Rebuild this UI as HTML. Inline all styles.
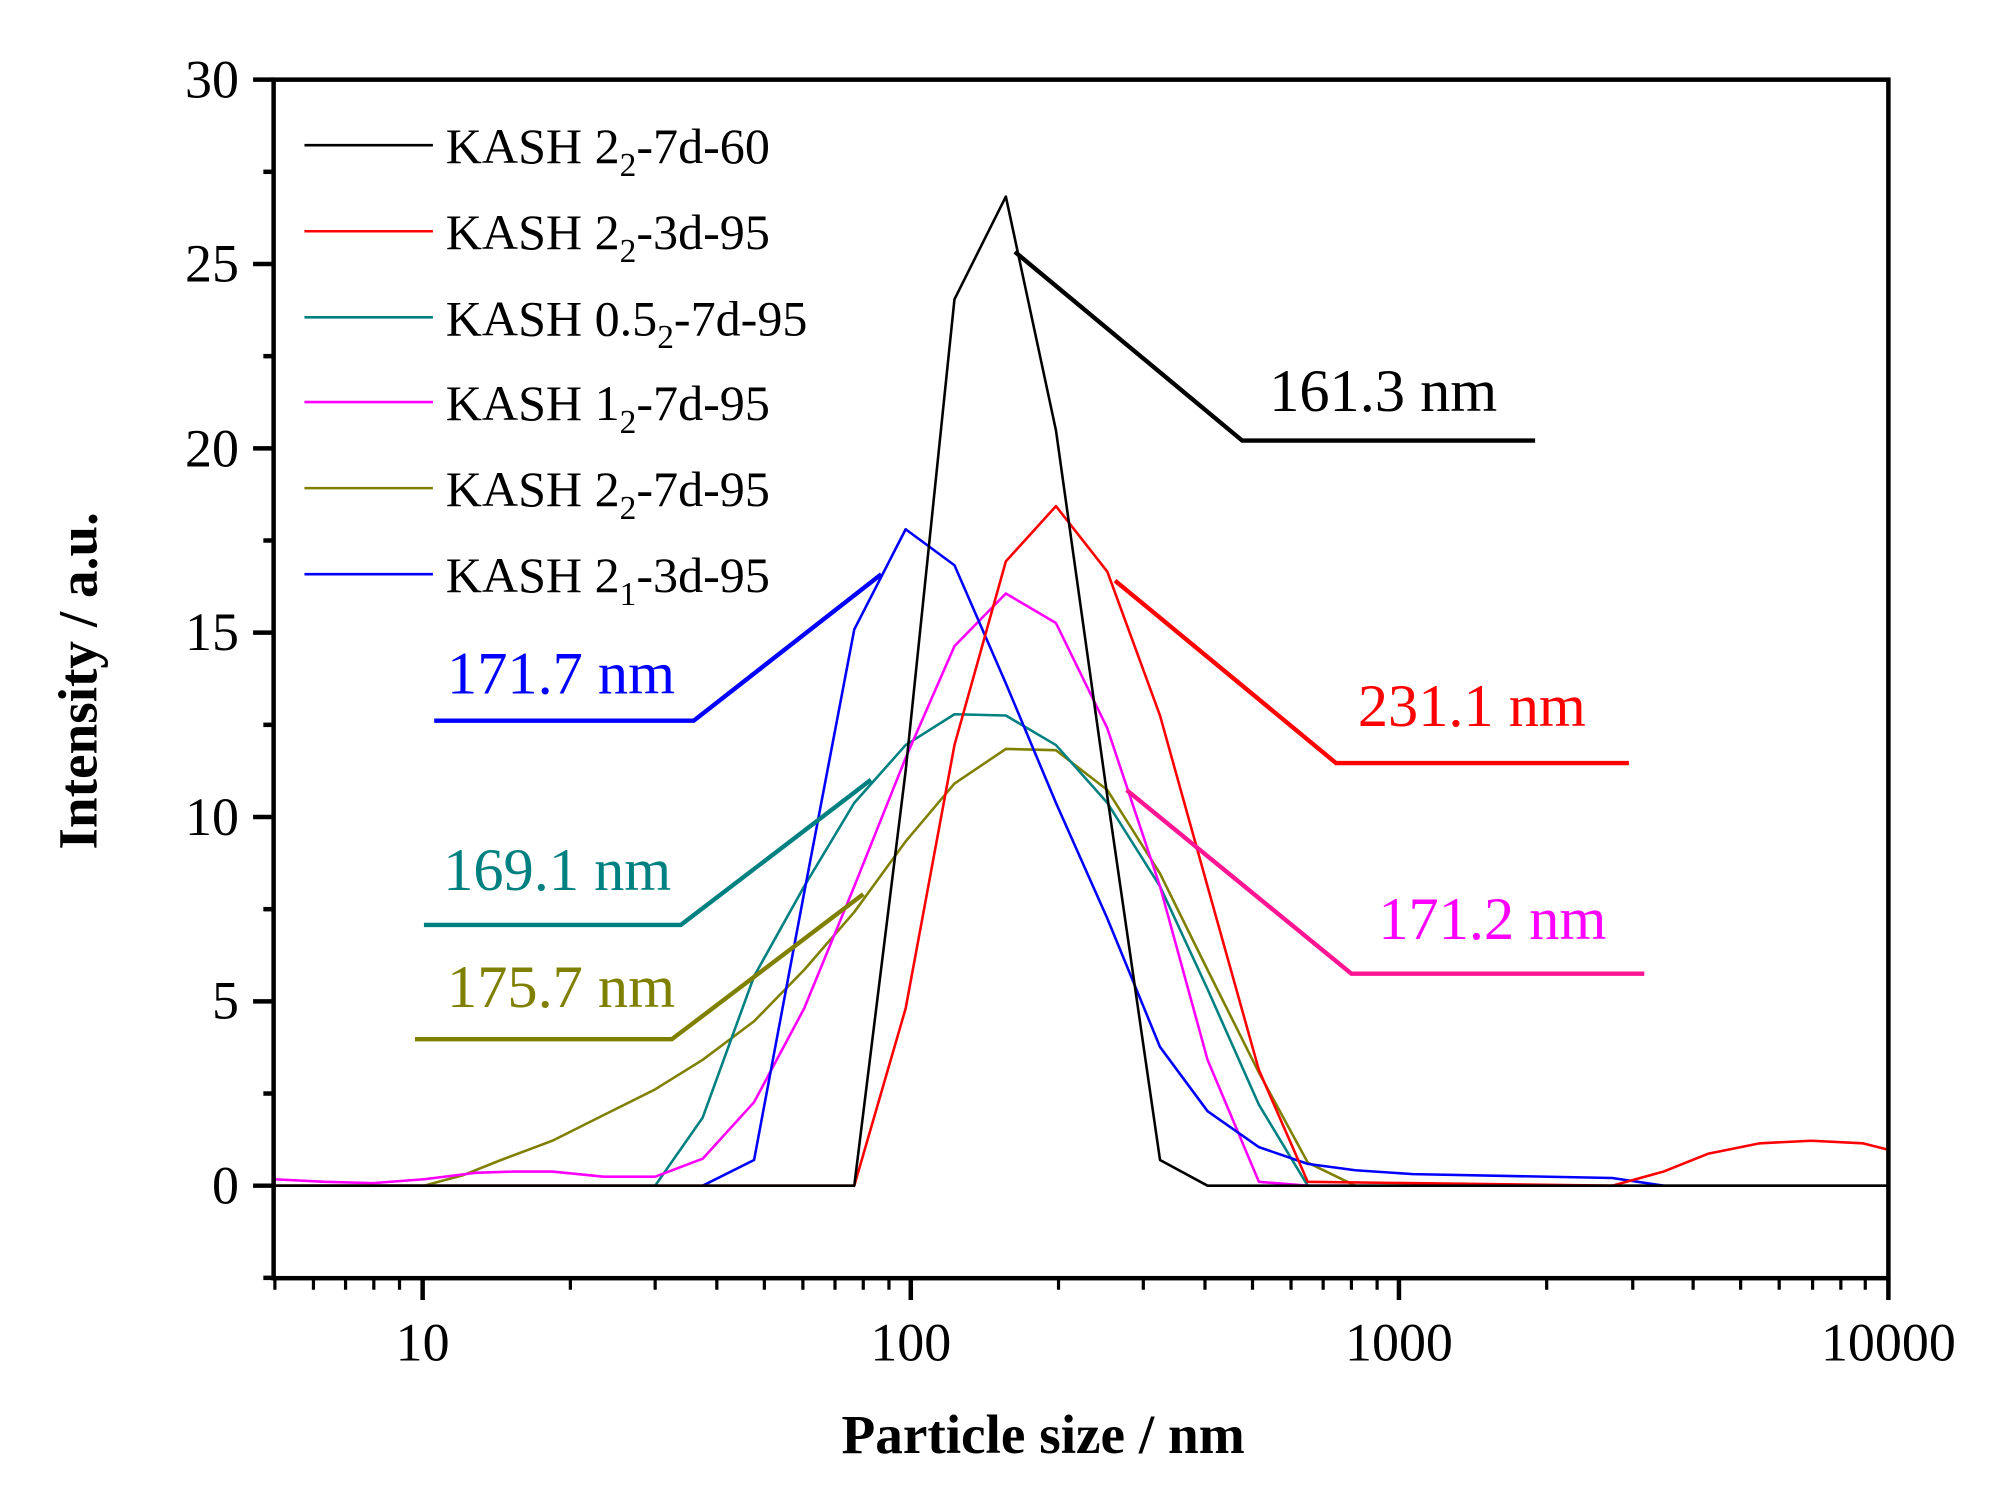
<!DOCTYPE html>
<html><head><meta charset="utf-8"><style>html,body{margin:0;padding:0;background:#fff}svg{display:block}</style></head>
<body>
<svg width="2004" height="1485" viewBox="0 0 1560 1156" preserveAspectRatio="none" xmlns="http://www.w3.org/2000/svg" font-family="Liberation Serif, serif">
<rect width="1560" height="1156" fill="#fff"/>
<g fill="none" stroke-width="2" stroke-linejoin="round">
<polyline stroke="#808000" points="213,923 330,923 360,915 390,903 430,888 470,868 510,848 547,825 587,795 626,755 665,710 705,655 743,610 783,583 822,584 862,615 903,680 940,755 980,835 1018,905 1055,923 1470,923"/>
<polyline stroke="#008080" points="213,923 510,923 547,870 587,760 626,690 665,625 705,580 743,556 783,557 822,580 862,625 903,690 940,770 980,860 1018,923"/>
<polyline stroke="#ff00ff" points="213,918 253,920 290,921 330,918 370,913 400,912 430,912 470,916 510,916 547,902 587,858 626,785 665,690 705,590 743,503 783,462 822,485 862,567 903,690 940,825 980,920 1018,923 1055,923"/>
<polyline stroke="#0000ff" points="547,923 587,903 626,695 665,490 705,412 743,440 783,532 822,625 862,715 903,815 940,865 980,893 1018,906 1055,911 1100,914 1255,917 1295,923"/>
<polyline stroke="#ff0000" points="213,923 665,923 705,785 743,580 783,437 822,394 862,445 903,557 940,690 980,833 1018,920 1255,923 1295,912 1330,898 1370,890 1410,888 1450,890 1470,895"/>
<polyline stroke="#000" points="213,923 665,923 705,600 743,233 783,153 822,335 862,620 903,903 940,923 1470,923"/>
</g>
<g fill="none" stroke-width="3.4">
<polyline stroke="#000" points="790,196 967,343 1195,343"/>
<polyline stroke="#ff0000" points="868,452 1040,594 1268,594"/>
<polyline stroke="#ff1493" points="877,615 1052,758 1280,758"/>
<polyline stroke="#0000ff" points="338,561 540,561 686,447"/>
<polyline stroke="#008080" points="330,720 530,720 678,607"/>
<polyline stroke="#808000" points="323,809 523,809 672,696"/>
</g>
<g font-size="47">
<text x="988" y="320" fill="#000">161.3 nm</text>
<text x="348" y="540" fill="#0000ff">171.7 nm</text>
<text x="1057" y="565" fill="#ff0000">231.1 nm</text>
<text x="345" y="693" fill="#008080">169.1 nm</text>
<text x="1073" y="731" fill="#ff00ff">171.2 nm</text>
<text x="348" y="784" fill="#808000">175.7 nm</text>
</g>
<g stroke-width="2">
<line x1="237" x2="337" y1="113" y2="113" stroke="#000"/>
<line x1="237" x2="337" y1="180" y2="180" stroke="#f00"/>
<line x1="237" x2="337" y1="247" y2="247" stroke="#008080"/>
<line x1="237" x2="337" y1="313" y2="313" stroke="#f0f"/>
<line x1="237" x2="337" y1="380" y2="380" stroke="#808000"/>
<line x1="237" x2="337" y1="447" y2="447" stroke="#00f"/>
</g>
<g font-size="39" fill="#000">
<text x="347" y="127">KASH 2<tspan font-size="26" dy="10">2</tspan><tspan dy="-10">-7d-60</tspan></text>
<text x="347" y="194">KASH 2<tspan font-size="26" dy="10">2</tspan><tspan dy="-10">-3d-95</tspan></text>
<text x="347" y="261">KASH 0.5<tspan font-size="26" dy="10">2</tspan><tspan dy="-10">-7d-95</tspan></text>
<text x="347" y="327">KASH 1<tspan font-size="26" dy="10">2</tspan><tspan dy="-10">-7d-95</tspan></text>
<text x="347" y="394">KASH 2<tspan font-size="26" dy="10">2</tspan><tspan dy="-10">-7d-95</tspan></text>
<text x="347" y="461">KASH 2<tspan font-size="26" dy="10">1</tspan><tspan dy="-10">-3d-95</tspan></text>
</g>
<rect x="213" y="62" width="1257" height="933" fill="none" stroke="#000" stroke-width="3.5"/>
<g stroke="#000" stroke-width="3.5">
<line x1="197" x2="213" y1="62" y2="62"/><line x1="197" x2="213" y1="205.5" y2="205.5"/>
<line x1="197" x2="213" y1="349" y2="349"/><line x1="197" x2="213" y1="492.5" y2="492.5"/>
<line x1="197" x2="213" y1="636" y2="636"/><line x1="197" x2="213" y1="779.5" y2="779.5"/>
<line x1="197" x2="213" y1="923" y2="923"/>
<line x1="205" x2="213" y1="133.75" y2="133.75"/><line x1="205" x2="213" y1="277.25" y2="277.25"/>
<line x1="205" x2="213" y1="420.75" y2="420.75"/><line x1="205" x2="213" y1="564.25" y2="564.25"/>
<line x1="205" x2="213" y1="707.75" y2="707.75"/><line x1="205" x2="213" y1="851.25" y2="851.25"/>
<line x1="205" x2="213" y1="994.75" y2="994.75"/>
<line x1="329" x2="329" y1="995" y2="1012"/><line x1="709" x2="709" y1="995" y2="1012"/>
<line x1="1089" x2="1089" y1="995" y2="1012"/><line x1="1470" x2="1470" y1="995" y2="1012"/>
</g>
<g stroke="#000" stroke-width="2.5">
<line x1="214" x2="214" y1="995" y2="1004"/><line x1="244" x2="244" y1="995" y2="1004"/><line x1="269" x2="269" y1="995" y2="1004"/><line x1="291" x2="291" y1="995" y2="1004"/><line x1="311" x2="311" y1="995" y2="1004"/>
<line x1="444" x2="444" y1="995" y2="1004"/><line x1="510" x2="510" y1="995" y2="1004"/><line x1="558" x2="558" y1="995" y2="1004"/><line x1="595" x2="595" y1="995" y2="1004"/><line x1="625" x2="625" y1="995" y2="1004"/><line x1="650" x2="650" y1="995" y2="1004"/><line x1="672" x2="672" y1="995" y2="1004"/><line x1="692" x2="692" y1="995" y2="1004"/>
<line x1="824" x2="824" y1="995" y2="1004"/><line x1="890" x2="890" y1="995" y2="1004"/><line x1="938" x2="938" y1="995" y2="1004"/><line x1="975" x2="975" y1="995" y2="1004"/><line x1="1005" x2="1005" y1="995" y2="1004"/><line x1="1030" x2="1030" y1="995" y2="1004"/><line x1="1052" x2="1052" y1="995" y2="1004"/><line x1="1072" x2="1072" y1="995" y2="1004"/>
<line x1="1204" x2="1204" y1="995" y2="1004"/><line x1="1271" x2="1271" y1="995" y2="1004"/><line x1="1318" x2="1318" y1="995" y2="1004"/><line x1="1355" x2="1355" y1="995" y2="1004"/><line x1="1385" x2="1385" y1="995" y2="1004"/><line x1="1411" x2="1411" y1="995" y2="1004"/><line x1="1433" x2="1433" y1="995" y2="1004"/><line x1="1452" x2="1452" y1="995" y2="1004"/>
</g>
<g font-size="42" text-anchor="end" fill="#000">
<text x="186" y="76">30</text><text x="186" y="219">25</text><text x="186" y="363">20</text>
<text x="186" y="506">15</text><text x="186" y="650">10</text><text x="186" y="793">5</text><text x="186" y="937">0</text>
</g>
<g font-size="42" text-anchor="middle" fill="#000">
<text x="329" y="1059">10</text><text x="709" y="1059">100</text><text x="1089" y="1059">1000</text><text x="1470" y="1059">10000</text>
</g>
<text x="812" y="1131" font-size="43" font-weight="bold" text-anchor="middle">Particle size / nm</text>
<text transform="translate(75,530) rotate(-90)" font-size="43" font-weight="bold" text-anchor="middle">Intensity / a.u.</text>
</svg>
</body></html>
